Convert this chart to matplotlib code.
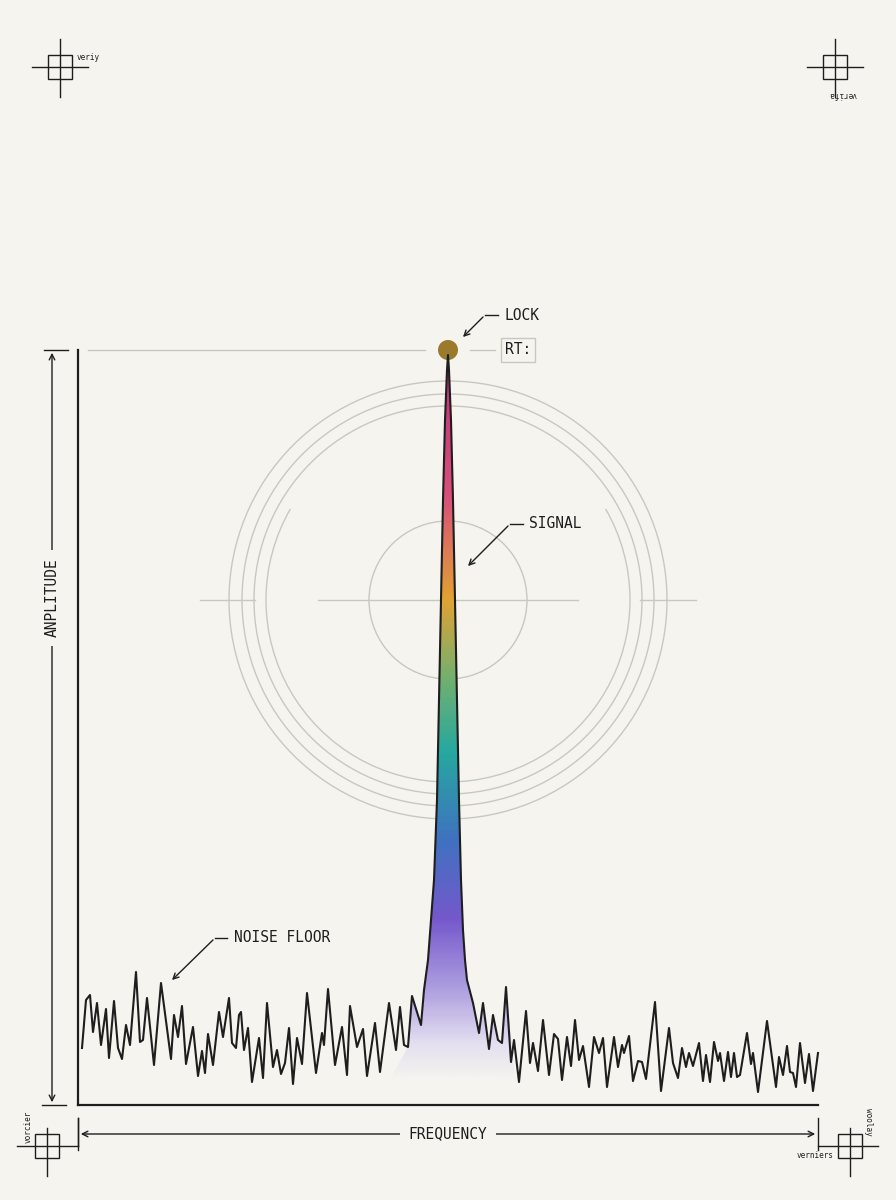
import numpy as np
import matplotlib.pyplot as plt
from matplotlib.patches import Circle, Rectangle, Polygon, Arc
from matplotlib.colors import LinearSegmentedColormap

# ---- data (in pixel readings) ----
noise_left_x = [82,86,90,93,97,101,106,109,114,118,122,126,130,136,140,143,147,154,161,171,174,178,182,186,193,198,202,205,208,213,219,223,229,232,236,239,241,244,248,252,259,263,267,273,277,281,285,289,293,297,302,307,316,322,324,328,335,342,347,350,357,363,367,375,380,389,396,400,404,408,412,421]
noise_left_y = [1048,1000,995,1032,1003,1045,1009,1058,1001,1048,1059,1025,1045,972,1042,1040,998,1065,983,1059,1015,1037,1006,1064,1027,1076,1051,1073,1034,1065,1012,1037,998,1043,1048,1015,1012,1050,1028,1082,1038,1078,1003,1067,1050,1074,1063,1028,1084,1038,1064,993,1073,1033,1045,989,1065,1027,1075,1006,1047,1029,1076,1023,1072,1003,1050,1007,1045,1047,996,1025]
peak_x = [424,428,431,434,437,439,441,443,445,447,448,449,451,453,455,457,459,461,463,465,467]
peak_y = [990,960,920,880,800,700,600,500,420,370,355,370,420,500,600,700,800,880,930,960,980]
noise_right_x = [473,479,483,489,493,498,502,506,511,514,519,526,530,533,538,543,549,554,558,562,567,571,575,579,583,589,594,599,603,607,614,618,622,624,629,633,638,642,646,655,661,669,673,678,682,686,689,693,699,703,706,710,714,718,720,724,728,731,734,737,740,747,751,753,758,767,776,779,783,787,790,793,796,800,805,809,813,818]
noise_right_y = [1003,1033,1003,1049,1015,1040,1043,987,1062,1040,1082,1011,1063,1043,1071,1020,1075,1034,1039,1080,1037,1066,1020,1060,1046,1087,1037,1053,1038,1087,1037,1067,1045,1053,1036,1081,1061,1062,1079,1002,1091,1028,1063,1078,1048,1067,1053,1066,1043,1081,1055,1082,1042,1061,1053,1081,1052,1077,1053,1077,1075,1033,1064,1053,1092,1021,1087,1057,1075,1046,1072,1073,1087,1043,1083,1054,1091,1053]

X0, X1, YB, YT = 78, 818, 1105, 350
def to_f(x): return (np.array(x) - X0) / (X1 - X0)
def to_a(y): return (YB - np.array(y)) / (YB - YT)

fx = np.concatenate([to_f(noise_left_x), to_f(peak_x), to_f(noise_right_x)])
fa = np.concatenate([to_a(noise_left_y), to_a(peak_y), to_a(noise_right_y)])

BG = '#f6f4ee'
INK = '#1e1e1e'
GRAY = '#c9c7c0'
MONO = 'DejaVu Sans Mono'
FS = 10.5

fig = plt.figure(figsize=(8.96, 12), dpi=100, facecolor=BG)
ov = fig.add_axes([0, 0, 1, 1])
ov.set_xlim(0, 896); ov.set_ylim(1200, 0); ov.axis('off')

ax = fig.add_axes([X0/896, 1-YB/1200, (X1-X0)/896, (YB-YT)/1200])
ax.set_xlim(0, 1); ax.set_ylim(0, 1)
ax.set_facecolor('none')
for s in ['top', 'right']:
    ax.spines[s].set_visible(False)
for s in ['left', 'bottom']:
    ax.spines[s].set_color(INK); ax.spines[s].set_linewidth(1.6)
ax.set_xticks([]); ax.set_yticks([])

# reticle circles
cx, cy = 448, 600
for r in [219, 206, 194]:
    ov.add_patch(Circle((cx, cy), r, fill=False, ec=GRAY, lw=1))
ov.add_patch(Arc((cx, cy), 2*182, 2*182, theta1=-30, theta2=210, ec=GRAY, lw=1))
ov.add_patch(Circle((cx, cy), 79, fill=False, ec=GRAY, lw=1))
for a, b in [(200, 255), (640, 696), (318, 578)]:
    ov.plot([a, b], [cy, cy], color=GRAY, lw=1)

# gradient fill under peak
cmap = LinearSegmentedColormap.from_list('sig', [
    (0.0, BG), (0.05, '#e4dff0'), (0.12, '#b0a2e0'), (0.22, '#7558cc'), (0.33, '#3f72c0'),
    (0.45, '#26a8a0'), (0.55, '#72b070'), (0.66, '#e2a232'), (0.80, '#d8507a'),
    (1.0, '#c0307a')])
grad = np.linspace(0, 1, 300).reshape(-1, 1)
img = ax.imshow(grad, extent=[0.40, 0.60, 0.03, 1.0], origin='lower', cmap=cmap,
                aspect='auto', zorder=1)
px = np.concatenate([[to_f(390)], to_f(noise_left_x[-3:]), to_f(peak_x), to_f(noise_right_x[:8]), [to_f(515)]])
py = np.concatenate([[to_a(1080)], to_a(noise_left_y[-3:]), to_a(peak_y), to_a(noise_right_y[:8]), [to_a(1080)]])
poly = Polygon(np.column_stack([px, py]), closed=True, transform=ax.transData, fc='none', ec='none')
ax.add_patch(poly)
img.set_clip_path(poly)

ax.plot(fx, fa, color=INK, lw=1.5, zorder=3, clip_on=False)

# dimension lines
ov.annotate('', xy=(52, 350), xytext=(52, 1105), arrowprops=dict(arrowstyle='<->', color=INK, lw=1))
ov.plot([44, 68], [350, 350], color=INK, lw=1)
ov.plot([42, 66], [1105, 1105], color=INK, lw=1)
ov.text(52, 598, 'ANPLITUDE', rotation=90, ha='center', va='center', family=MONO, fontsize=FS,
        color=INK, bbox=dict(fc=BG, ec='none', pad=6))
ov.annotate('', xy=(78, 1134), xytext=(818, 1134), arrowprops=dict(arrowstyle='<->', color=INK, lw=1))
ov.plot([78, 78], [1118, 1150], color=INK, lw=1)
ov.plot([818, 818], [1118, 1150], color=INK, lw=1)
ov.text(448, 1134, 'FREQUENCY', ha='center', va='center', family=MONO, fontsize=FS,
        color=INK, bbox=dict(fc=BG, ec='none', pad=6))

# lock marker & labels
ov.plot([88, 425], [350, 350], color=GRAY, lw=1)
ov.plot([470, 495], [350, 350], color=GRAY, lw=1)
ov.add_patch(Circle((448, 350), 10, fc='#9a7a2c', ec='none', zorder=5))
ov.text(518, 350, 'RT:', ha='center', va='center', family=MONO, fontsize=FS, color=INK,
        bbox=dict(fc=BG, ec=GRAY, pad=3))
ov.text(505, 315, 'LOCK', ha='left', va='center', family=MONO, fontsize=FS, color=INK)
ov.plot([498, 485], [315, 315], color=INK, lw=1)
ov.annotate('', xy=(461, 339), xytext=(485, 315), arrowprops=dict(arrowstyle='->', color=INK, lw=1))
ov.text(529, 524, 'SIGNAL', ha='left', va='center', family=MONO, fontsize=FS, color=INK)
ov.plot([523, 510], [524, 524], color=INK, lw=1)
ov.annotate('', xy=(466, 568), xytext=(510, 524), arrowprops=dict(arrowstyle='->', color=INK, lw=1))
ov.text(234, 938, 'NOISE FLOOR', ha='left', va='center', family=MONO, fontsize=FS, color=INK)
ov.plot([227, 215], [938, 938], color=INK, lw=1)
ov.annotate('', xy=(170, 982), xytext=(215, 938), arrowprops=dict(arrowstyle='->', color=INK, lw=1))

# corner registration marks
def mark(x, y, h=(28, 28), v=(28, 30), s=12):
    ov.add_patch(Rectangle((x-s, y-s), 2*s, 2*s, fill=False, ec=INK, lw=1))
    ov.plot([x-h[0], x+h[1]], [y, y], color=INK, lw=1)
    ov.plot([x, x], [y-v[0], y+v[1]], color=INK, lw=1)
mark(60, 67)
ov.text(77, 57, 'veriy', fontsize=5.5, family=MONO, color=INK, va='center')
mark(835, 67)
ov.text(843, 95, 'verifa', fontsize=5.5, family=MONO, color=INK, rotation=180, ha='center', va='center')
mark(47, 1146, h=(30, 31), v=(18, 30))
ov.plot([78, 78], [1118, 1146], color=INK, lw=1)
ov.text(28, 1127, 'vorcier', fontsize=5.5, family=MONO, color=INK, rotation=90, ha='center', va='center')
mark(850, 1146, h=(32, 28), v=(18, 30))
ov.text(815, 1155, 'verniers', fontsize=5.5, family=MONO, color=INK, ha='center', va='center')
ov.text(868, 1122, 'woolay', fontsize=5.5, family=MONO, color=INK, rotation=-90, ha='center', va='center')

fig.savefig('out.png', dpi=100, facecolor=BG)
